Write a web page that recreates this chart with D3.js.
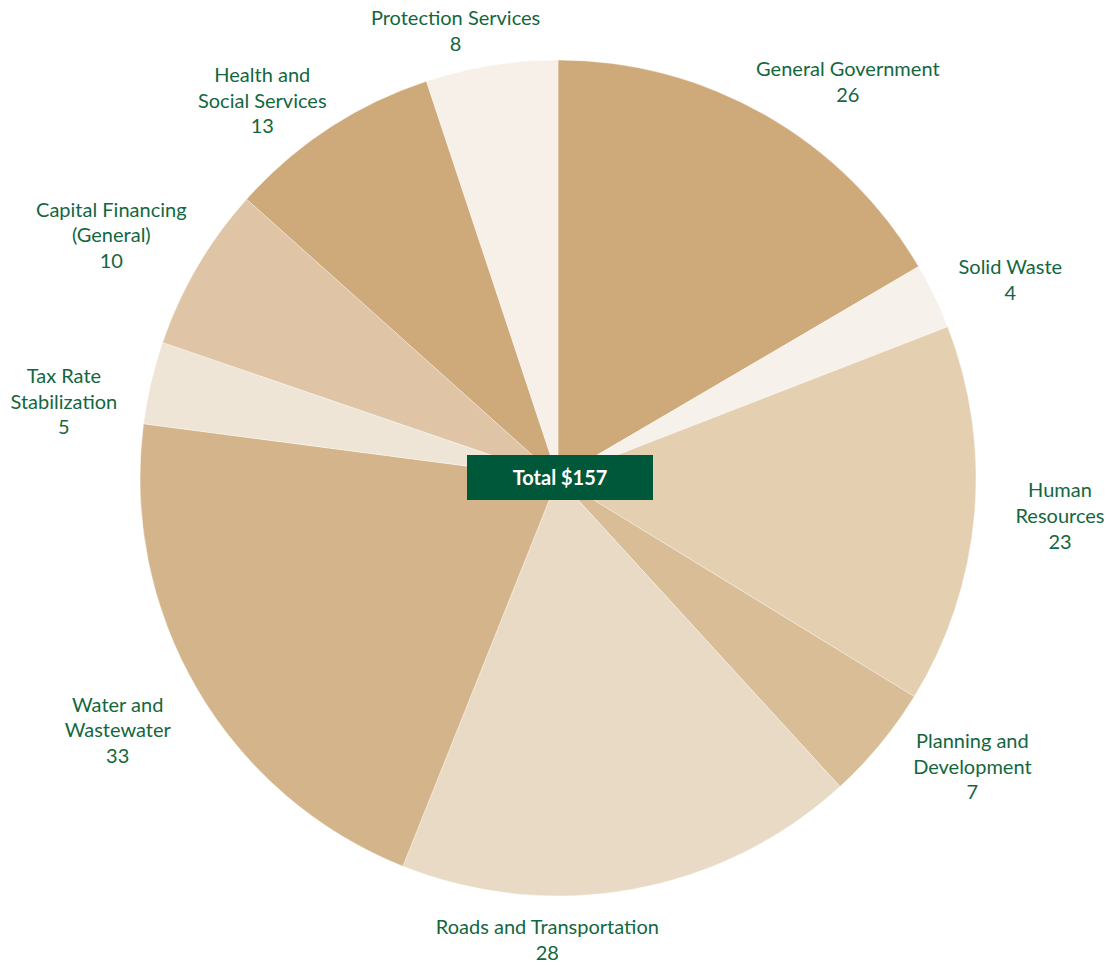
<!DOCTYPE html>
<html>
<head>
<meta charset="utf-8">
<script src="https://cdn.jsdelivr.net/npm/d3@7"></script>
<style>
  html, body { margin: 0; padding: 0; background: #ffffff; }
  svg { display: block; }
  text { font-family: Lato, "Open Sans", sans-serif; }
</style>
</head>
<body>
<svg id="chart" width="1109" height="965"></svg>
<script>
// ---- data ----
const categories = [
  "General Government", "Solid Waste", "Human Resources", "Planning and Development",
  "Roads and Transportation", "Water and Wastewater", "Tax Rate Stabilization",
  "Capital Financing (General)", "Health and Social Services", "Protection Services"
];
const labelLines = [
  ["General Government"], ["Solid Waste"], ["Human", "Resources"], ["Planning and", "Development"],
  ["Roads and Transportation"], ["Water and", "Wastewater"], ["Tax Rate", "Stabilization"],
  ["Capital Financing", "(General)"], ["Health and", "Social Services"], ["Protection Services"]
];
const values = [26, 4, 23, 7, 28, 33, 5, 10, 13, 8];
const totalLabel = "Total $157";

// ---- styling / layout ----
const sliceColors = ["#cea979", "#f6f1ea", "#e5cfb1", "#d9bd96", "#e8dac5",
                     "#d4b48a", "#efe5d6", "#dfc5a5", "#cea979", "#f7f0e8"];
// label block placement: [angle in degrees clockwise from top, distance from centre]
const labelPolar = [[36.7, 485], [67.1, 491], [95.1, 504], [125.5, 509], [181.3, 469],
                    [239.5, 511], [278.0, 499], [297.8, 505], [321.4, 474], [346.9, 452]];
const cx = 558, cy = 478, radius = 418;
const lineH = 25.7;
const labelColor = "#13673f";

const svg = d3.select("#chart");
const g = svg.append("g").attr("transform", `translate(${cx},${cy})`);

const pie = d3.pie().value(d => d).sort(null);
const arc = d3.arc().innerRadius(0).outerRadius(radius);
const arcs = pie(values);

g.selectAll("path.slice")
  .data(arcs)
  .join("path")
  .attr("class", "slice")
  .attr("d", arc)
  .attr("fill", (d, i) => sliceColors[i])
  .attr("stroke", "#ffffff")
  .attr("stroke-width", 0.35);

// labels
g.selectAll("text.lbl")
  .data(arcs)
  .join("text")
  .attr("class", "lbl")
  .attr("text-anchor", "middle")
  .attr("fill", labelColor)
  .style("font-size", "20px")
  .each(function(d, i) {
    const [ang, dist] = labelPolar[i];
    const [x, y] = d3.pointRadial(ang * Math.PI / 180, dist);
    const lines = labelLines[i].concat([String(values[i])]);
    const y0 = y - (lines.length - 1) * lineH / 2;
    const t = d3.select(this);
    lines.forEach((ln, k) => {
      t.append("tspan").attr("x", x).attr("y", y0 + k * lineH).text(ln);
    });
  });

// centre total box
const boxW = 186, boxH = 45;
g.append("rect")
  .attr("x", 2 - boxW / 2).attr("y", -0.5 - boxH / 2)
  .attr("width", boxW).attr("height", boxH)
  .attr("fill", "#00583a");
g.append("text")
  .attr("x", 2).attr("y", 7)
  .attr("text-anchor", "middle")
  .attr("fill", "#ffffff")
  .style("font-size", "20px")
  .style("font-weight", "bold")
  .text(totalLabel);
</script>
</body>
</html>
